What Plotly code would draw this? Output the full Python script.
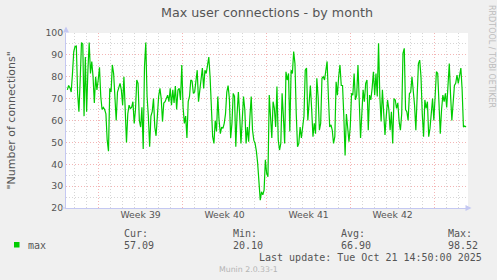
import pandas as pd
import plotly.graph_objects as go

# ---------------- data ----------------
TITLE = "Max user connections - by month"
Y_LABEL = '"Number of connections"'
SERIES_NAME = "max"
SIDE_TEXT = "RRDTOOL / TOBI OETIKER"
FOOTER = "Munin 2.0.33-1"
LAST_UPDATE_TEXT = "Last update: Tue Oct 21 14:50:00 2025"

FIRST_SAMPLE = "2025-09-18 09:30"
LAST_SAMPLE = "2025-10-21 14:50"
X_START = "2025-09-18 06:50"
X_END = "2025-10-21 18:50"
FIRST_WEEK_LINE = "2025-09-21"

WEEK_LABELS = ["Week 39", "Week 40", "Week 41", "Week 42"]
WEEK_CENTERS = ["2025-09-24 12:00", "2025-10-01 12:00",
                "2025-10-08 12:00", "2025-10-15 12:00"]

STAT_NAMES = ["Cur:", "Min:", "Avg:", "Max:"]
STAT_VALUES = ["57.09", "20.10", "66.90", "98.52"]

Y_MIN, Y_MAX = 20, 100

part1 = [74, 76, 75, 73, 81.5, 91.5, 93.8, 94, 72.4, 64, 78.5, 95.6, 95, 62, 89,
         64, 83, 95.6, 81.5, 87, 80, 68, 80, 74, 78.5, 84.3, 71, 65, 66, 65, 63,
         51, 46, 74.7, 73, 85.4, 81.5, 71, 60, 73, 74.7, 77, 74, 67, 80, 60, 50,
         63, 67, 65.5, 66, 68.6]
part2 = [58.7, 65, 78.5, 77, 60, 57, 66, 47, 84.6, 95.6, 71, 62, 48, 62, 64, 70,
         57, 53, 65, 71, 74.7, 70, 59.5, 68, 68.6, 70, 71.6, 68.6, 74.7, 67, 74,
         68, 75.8, 65, 74, 74.7, 69.4, 85.4, 66, 58.7, 62, 52, 68.6, 71, 78.5, 78,
         72.4, 73, 78.5, 83, 68.6, 73, 78.5]
part3 = [84, 74.7, 83, 81.5, 84.6, 89, 80, 63, 52.6, 49.5, 60, 55, 71, 60, 54, 57,
         56.4, 58.7, 63, 73, 76, 70, 52, 58.7, 72.4, 71, 48, 63, 73, 62.5, 49.5,
         60, 71, 65, 49.5, 57, 50.3, 62, 71, 55.6, 51, 49.5, 46, 40.4, 29.7, 23.6,
         27.4, 26, 28.2, 42, 35.8, 34.3, 71.6]
part4 = [60, 52, 68.6, 65.5, 57, 75.5, 51, 46.5, 49.5, 72.4, 62, 49.5, 82.3, 78.5,
         81.5, 55, 83, 81.5, 91.5, 86, 63, 48, 49.5, 57, 52, 57, 62, 83, 84, 60,
         71, 76, 65, 52.6, 58.7, 54, 79.3, 71, 55.6, 58.7, 79.3, 80, 78.5, 82.3,
         87, 71, 57, 58, 55.6, 49.5, 52.6, 77.7, 71.6]
part5 = [80, 85.4, 76, 76, 62, 44, 63, 57, 50.3, 57, 72.4, 71.6, 81.5, 69.4, 71.6,
         85.4, 65, 52, 63, 74, 68.6, 77, 78.5, 55.6, 71.6, 69.4, 74.7, 82.3, 71.6,
         81.5, 71, 95.3, 71, 59.5, 74, 61, 53.4, 62, 69.4, 65, 55.6, 64, 49.5, 70,
         69.4, 65.5, 68, 59.5, 55.6, 63, 90.7, 93, 65]
part6 = [64, 60, 72.4, 73, 80, 74, 67, 55.6, 74, 86, 87.6, 80, 63, 52.6, 69.4,
         65.5, 68.6, 52.6, 56.4, 63, 70, 60, 71, 82.3, 81.5, 66, 54, 65, 71.6,
         68.6, 72.4, 66, 74, 86, 71.6, 60, 68, 76, 77, 80.8, 77, 81.5, 84, 74, 57,
         57.5, 57]

values = part1 + part2 + part3 + part4 + part5 + part6
times = pd.date_range(FIRST_SAMPLE, LAST_SAMPLE, periods=len(values))

# ---------------- layout geometry (pixels) ----------------
W, H = 497, 280
PL, PR, PT, PB = 66, 468, 33, 208


def px_x(x):
    return (x - PL) / (PR - PL)


def px_y(y):
    return (PB - y) / (PB - PT)


TEXT = "#555555"
AXIS = "#C4C8F2"
MAJOR_GRID = "rgba(235,120,120,0.55)"
MINOR_GRID = "#D6D6D6"
DOT = "1px,2px"
SANS = "DejaVu Sans"
MONO = "DejaVu Sans Mono"

fig = go.Figure()
fig.add_trace(go.Scatter(x=times, y=values, mode="lines", name=SERIES_NAME,
                         line=dict(color="#00CC00", width=1.2),
                         showlegend=False, hoverinfo="skip"))

fig.update_layout(
    width=W, height=H,
    margin=dict(l=PL, r=W - PR, t=PT, b=H - PB),
    paper_bgcolor="#F0F0F0", plot_bgcolor="#FFFFFF",
    font=dict(family=SANS, color=TEXT, size=9.3),
    title=dict(text=TITLE, x=0.5, xref="paper", xanchor="center",
               y=1 - 13 / H, yref="container", yanchor="middle",
               font=dict(family=SANS, size=12.7, color=TEXT)),
    xaxis=dict(type="date", range=[X_START, X_END],
               tickmode="linear", tick0=FIRST_WEEK_LINE, dtick=7 * 86400000,
               showticklabels=False, ticks="",
               showgrid=True, gridcolor=MAJOR_GRID, griddash=DOT, gridwidth=1,
               minor=dict(tick0=FIRST_WEEK_LINE, dtick=86400000, showgrid=True,
                          gridcolor=MINOR_GRID, griddash=DOT, gridwidth=1,
                          ticks=""),
               showline=True, linecolor=AXIS, linewidth=1,
               zeroline=False, fixedrange=True),
    xaxis2=dict(type="date", range=[X_START, X_END], overlaying="x",
                side="bottom", tickmode="array", tickvals=WEEK_CENTERS,
                ticktext=WEEK_LABELS, showgrid=False, ticks="",
                tickfont=dict(family=SANS, size=9.3, color=TEXT),
                showline=False, zeroline=False, fixedrange=True),
    yaxis=dict(range=[Y_MIN, Y_MAX], tickmode="linear", tick0=0, dtick=10,
               showgrid=True, gridcolor=MAJOR_GRID, griddash=DOT, gridwidth=1,
               minor=dict(dtick=5, showgrid=True, gridcolor=MINOR_GRID,
                          griddash=DOT, gridwidth=1, ticks=""),
               ticks="", tickfont=dict(family=SANS, size=9.3, color=TEXT),
               showline=True, linecolor=AXIS, linewidth=1,
               zeroline=False, fixedrange=True),
)

# invisible helper trace so the label axis is drawn
fig.add_trace(go.Scatter(x=[times[0]], y=[values[0]], xaxis="x2", mode="markers",
                         marker=dict(opacity=0), showlegend=False,
                         hoverinfo="skip"))

ann = []
# y-axis title
ann.append(dict(text=Y_LABEL, xref="paper", yref="paper",
                x=px_x(11), y=px_y(120.5), textangle=-90, showarrow=False,
                xanchor="center", yanchor="middle",
                font=dict(family=SANS, size=11, color=TEXT)))
# side text
ann.append(dict(text=SIDE_TEXT, xref="paper", yref="paper",
                x=px_x(491.5), y=px_y(56.5), textangle=90, showarrow=False,
                xanchor="center", yanchor="middle",
                font=dict(family=SANS, size=8, color="#BDBDBD")))
# legend entry
ann.append(dict(text=SERIES_NAME, xref="paper", yref="paper",
                x=px_x(25.5), y=px_y(245.3), showarrow=False,
                xanchor="left", yanchor="middle",
                font=dict(family=MONO, size=10, color=TEXT)))
stat_x = [121.7, 230.7, 339.0, 446.3]
for sx, name, val in zip(stat_x, STAT_NAMES, STAT_VALUES):
    ann.append(dict(text=name, xref="paper", yref="paper",
                    x=px_x(sx), y=px_y(233.3), showarrow=False,
                    xanchor="left", yanchor="middle",
                    font=dict(family=MONO, size=10, color=TEXT)))
    ann.append(dict(text=val, xref="paper", yref="paper",
                    x=px_x(sx), y=px_y(245.3), showarrow=False,
                    xanchor="left", yanchor="middle",
                    font=dict(family=MONO, size=10, color=TEXT)))
ann.append(dict(text=LAST_UPDATE_TEXT, xref="paper", yref="paper",
                x=px_x(484.3), y=px_y(257.3), showarrow=False,
                xanchor="right", yanchor="middle",
                font=dict(family=MONO, size=10, color=TEXT)))
ann.append(dict(text=FOOTER, xref="paper", yref="paper",
                x=px_x(248.5), y=px_y(269.3), showarrow=False,
                xanchor="center", yanchor="middle",
                font=dict(family=SANS, size=7.8, color="#B4B4B4")))
# axis arrows
ann.append(dict(text="", xref="paper", yref="paper", x=px_x(66), y=px_y(26.5),
                ax=0, ay=7, showarrow=True, arrowhead=2, arrowsize=1.2,
                arrowwidth=1, arrowcolor=AXIS))
ann.append(dict(text="", xref="paper", yref="paper", x=px_x(471.5), y=px_y(208),
                ax=-7, ay=0, showarrow=True, arrowhead=2, arrowsize=1.2,
                arrowwidth=1, arrowcolor=AXIS))
fig.update_layout(annotations=ann)

# legend colour box
fig.add_shape(type="rect", xref="paper", yref="paper",
              x0=px_x(14), x1=px_x(19.5), y0=px_y(247.5), y1=px_y(242),
              fillcolor="#00CC00", line=dict(width=0))
# axis line extension left of the y axis
fig.add_shape(type="line", xref="paper", yref="paper",
              x0=px_x(62), x1=px_x(66), y0=0, y1=0,
              line=dict(color=AXIS, width=1))

fig.write_html("out.html")
